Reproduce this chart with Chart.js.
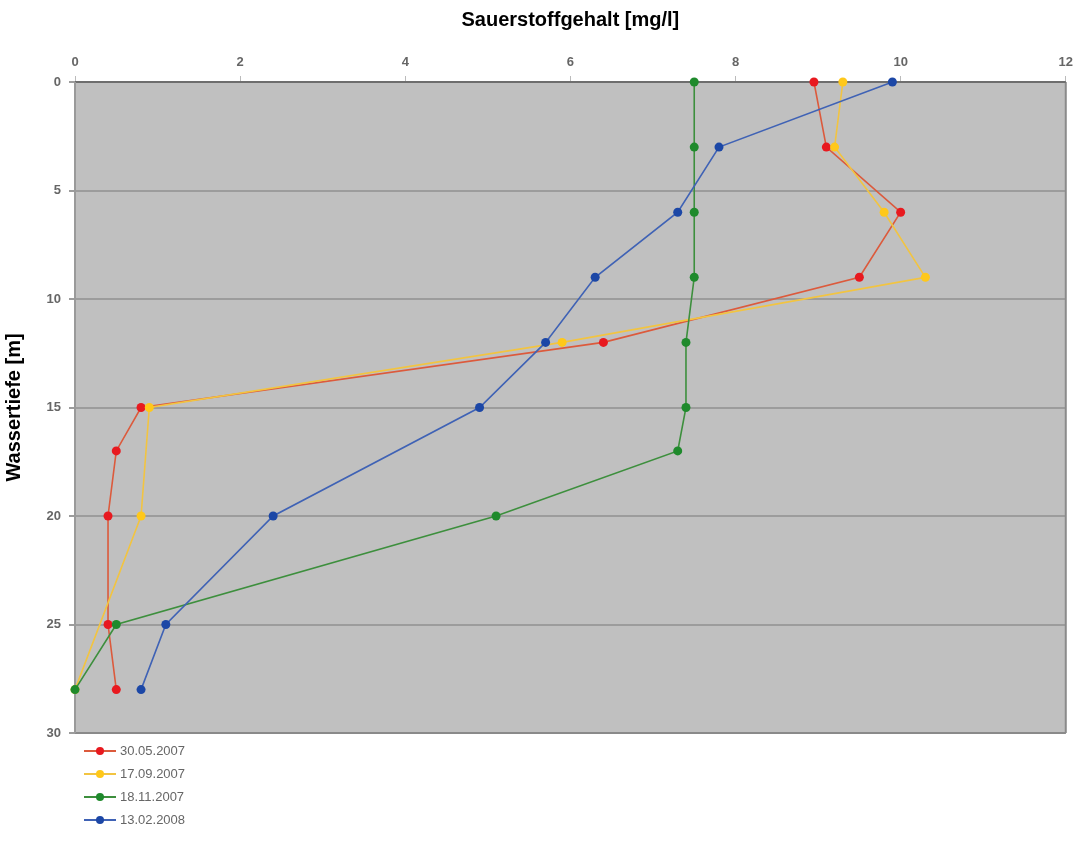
<!DOCTYPE html>
<html>
<head>
<meta charset="utf-8">
<script src="https://cdn.jsdelivr.net/npm/chart.js@4/dist/chart.umd.min.js"></script>
<style>
  html, body { margin: 0; padding: 0; background: #fff; }
  #wrap { position: relative; width: 1079px; height: 843px; }
  #legend { position: absolute; left: 82px; top: 739px; font-family: "Liberation Sans", Arial, sans-serif; font-size: 13px; color: #666; }
  .li { display: flex; align-items: center; height: 23px; }
  .sw { position: relative; width: 36px; height: 12px; margin-right: 2px; }
  .sw .ln { position: absolute; left: 2px; right: 2px; top: 5px; height: 2px; }
  .sw .dt { position: absolute; left: 14px; top: 2px; width: 8px; height: 8px; border-radius: 50%; }
</style>
</head>
<body>
<div id="wrap">
  <canvas id="c" width="1079" height="843"></canvas>
  <div id="legend"></div>
</div>
<script>
const depths = [0, 3, 6, 9, 12, 15, 17, 20, 25, 28];
const seriesLabels = ["30.05.2007", "17.09.2007", "18.11.2007", "13.02.2008"];
const o2_300507 = [8.95, 9.1, 10.0, 9.5, 6.4, 0.8, 0.5, 0.4, 0.4, 0.5];
const o2_170907 = [9.3, 9.2, 9.8, 10.3, 5.9, 0.9, null, 0.8, null, 0.0];
const o2_181107 = [7.5, 7.5, 7.5, 7.5, 7.4, 7.4, 7.3, 5.1, 0.5, 0.0];
const o2_130208 = [9.9, 7.8, 7.3, 6.3, 5.7, 4.9, null, 2.4, 1.1, 0.8];
const xTicks = [0, 2, 4, 6, 8, 10, 12];
const yTicks = [0, 5, 10, 15, 20, 25, 30];

const lineColors = ["#dc5a3c", "#f2c441", "#3d8f3d", "#3f62b5"];
const pointColors = ["#e8191f", "#ffc81a", "#1f8a2c", "#1c47a6"];
const allValues = [o2_300507, o2_170907, o2_181107, o2_130208];

function toPoints(vals) {
  const pts = [];
  vals.forEach((v, i) => { if (v !== null) pts.push({ x: v, y: depths[i] }); });
  return pts;
}

const datasets = allValues.map((vals, i) => ({
  label: seriesLabels[i],
  data: toPoints(vals),
  showLine: true,
  clip: false,
  order: allValues.length - i,
  borderColor: lineColors[i],
  backgroundColor: pointColors[i],
  pointBackgroundColor: pointColors[i],
  pointBorderColor: pointColors[i],
  pointRadius: 4.5,
  pointBorderWidth: 0,
  borderWidth: 1.6,
  tension: 0
}));

const bgPlugin = {
  id: 'bg',
  beforeDraw(chart) {
    const a = chart.chartArea, ctx = chart.ctx;
    ctx.save();
    ctx.fillStyle = "#c0c0c0";
    ctx.fillRect(a.left, a.top, a.right - a.left, a.bottom - a.top);
    ctx.restore();
  },
  beforeDatasetsDraw(chart) {
    const a = chart.chartArea, ctx = chart.ctx;
    ctx.save();
    ctx.strokeStyle = "#8a8a8a";
    ctx.lineWidth = 2;
    ctx.beginPath();
    ctx.moveTo(a.left, a.bottom); ctx.lineTo(a.right, a.bottom);
    ctx.moveTo(a.right, a.top); ctx.lineTo(a.right, a.bottom);
    ctx.stroke();
    ctx.strokeStyle = "#6e6e6e";
    ctx.beginPath();
    ctx.moveTo(a.left, a.top); ctx.lineTo(a.right, a.top);
    ctx.stroke();
    ctx.strokeStyle = "#9a9a9a";
    ctx.beginPath();
    ctx.moveTo(a.left, a.top); ctx.lineTo(a.left, a.bottom);
    ctx.stroke();
    ctx.restore();
  }
};

const tickFont = { family: "'Liberation Sans', Arial, sans-serif", size: 13, weight: 'bold' };
const titleFont = { family: "'Liberation Sans Narrow', 'Liberation Sans', Arial, sans-serif", size: 20, weight: 'bold' };

const chart = new Chart(document.getElementById('c'), {
  type: 'scatter',
  data: { datasets },
  options: {
    responsive: false,
    animation: false,
    layout: { padding: { left: 0, right: 12, top: 0, bottom: 110 } },
    plugins: { legend: { display: false }, tooltip: { enabled: false } },
    scales: {
      x: {
        type: 'linear', position: 'top', min: 0, max: 12,
        afterBuildTicks(s) { s.ticks = xTicks.map(v => ({ value: v })); },
        afterFit(s) { s.height = 82; },
        ticks: { color: "#666", font: tickFont, padding: 6 },
        grid: { drawOnChartArea: false, drawTicks: true, tickLength: 6, color: "#bbb" },
        border: { display: false },
        title: { display: true, text: "Sauerstoffgehalt [mg/l]", color: "#000", font: titleFont,
          padding: { top: 8, bottom: 4 } }
      },
      y: {
        type: 'linear', reverse: true, min: 0, max: 30,
        afterBuildTicks(s) { s.ticks = yTicks.map(v => ({ value: v })); },
        afterFit(s) { s.width = 75; },
        ticks: { color: "#666", font: tickFont, padding: 8 },
        grid: { color: "#9c9c9c", lineWidth: 2, drawTicks: true, tickLength: 6 },
        border: { display: false },
        title: { display: true, text: "Wassertiefe [m]", color: "#000", font: titleFont,
          padding: { top: 2, bottom: 2 } }
      }
    }
  },
  plugins: [bgPlugin]
});

const leg = document.getElementById('legend');
seriesLabels.forEach((lab, i) => {
  const d = document.createElement('div');
  d.className = 'li';
  d.innerHTML = '<span class="sw"><span class="ln" style="background:' + lineColors[i] + '"></span><span class="dt" style="background:' + pointColors[i] + '"></span></span><span>' + lab + '</span>';
  leg.appendChild(d);
});
</script>
</body>
</html>
